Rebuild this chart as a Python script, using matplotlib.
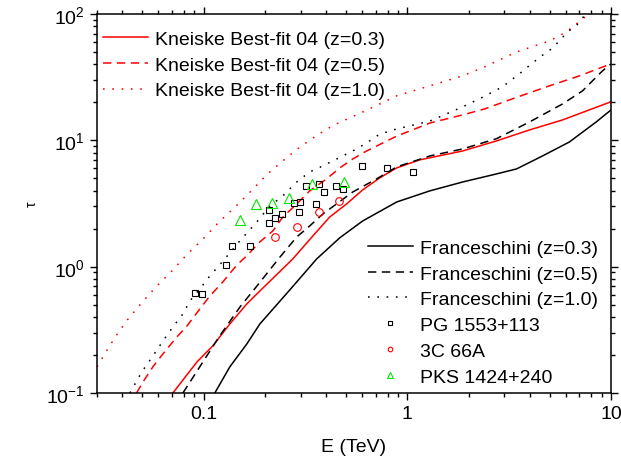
import matplotlib
matplotlib.use("Agg")
import matplotlib.pyplot as plt
from matplotlib.ticker import LogLocator, NullFormatter, FixedLocator, FixedFormatter

plt.rcParams['font.family'] = ['Liberation Sans', 'DejaVu Sans']
plt.rcParams['mathtext.fontset'] = 'custom'
plt.rcParams['mathtext.rm'] = 'Liberation Sans'
plt.rcParams['lines.scale_dashes'] = False

# Kneiske best-fit 04 curves (E in TeV, optical depth tau)
kn03_E = [0.0707, 0.0928, 0.111, 0.1346, 0.163, 0.189, 0.274, 0.344, 0.416, 0.504,
          0.604, 0.732, 0.887, 1.15, 1.87, 2.74, 3.99, 5.78, 10.0]
kn03_tau = [0.100, 0.176, 0.236, 0.352, 0.507, 0.642, 1.15, 1.75, 2.47, 3.14,
            4.05, 5.04, 6.05, 7.0, 8.24, 9.89, 12.1, 14.5, 20.2]

kn05_E = [0.0469, 0.0504, 0.0564, 0.0632, 0.074, 0.0829, 0.0959, 0.1074, 0.1244, 0.1457,
          0.163, 0.189, 0.219, 0.245, 0.287, 0.332, 0.402, 0.466, 0.540, 0.632,
          0.887, 1.29, 1.87, 2.39, 3.28, 4.82, 7.0, 10.0]
kn05_tau = [0.100, 0.122, 0.161, 0.204, 0.278, 0.339, 0.463, 0.586, 0.757, 1.03,
            1.22, 1.57, 1.92, 2.47, 3.14, 3.98, 4.95, 6.05, 7.12, 8.24,
            10.8, 13.7, 15.9, 17.7, 21.3, 26.5, 32.4, 40.3]

kn10_E = [0.03, 0.0331, 0.0372, 0.0424, 0.0493, 0.0582, 0.0697, 0.0826, 0.0996, 0.1189,
          0.1424, 0.172, 0.2037, 0.2456, 0.2967, 0.358, 0.4318, 0.606, 0.887, 1.29,
          1.87, 2.39, 3.44, 4.99, 6.04, 7.24, 7.83]
kn10_tau = [0.161, 0.21, 0.284, 0.381, 0.509, 0.687, 0.92, 1.24, 1.66, 2.25,
            2.95, 4.0, 5.32, 6.91, 8.82, 10.9, 13.1, 16.8, 22.5, 27.0,
            32.4, 38.1, 50.1, 61.2, 72.2, 91.4, 100.0]

# Franceschini curves
fr03_E = [0.1136, 0.1346, 0.163, 0.189, 0.265, 0.359, 0.466, 0.604, 0.887, 1.29,
          1.87, 2.74, 3.44, 4.61, 6.25, 8.47, 10.0]
fr03_tau = [0.100, 0.161, 0.244, 0.352, 0.654, 1.15, 1.69, 2.30, 3.25, 3.98,
            4.68, 5.42, 5.94, 7.52, 9.71, 14.0, 17.4]

fr05_E = [0.0792, 0.1015, 0.120, 0.151, 0.183, 0.237, 0.287, 0.332, 0.385, 0.450,
          0.540, 0.707, 0.887, 1.29, 1.87, 2.74, 3.99, 5.78, 7.24, 9.07, 10.0]
fr05_tau = [0.100, 0.186, 0.283, 0.48, 0.704, 1.19, 1.72, 2.10, 2.61, 3.14,
            3.90, 4.95, 6.16, 7.52, 8.55, 10.3, 14.0, 19.4, 24.6, 35.4, 40.3]

fr10_E = [0.0435, 0.0498, 0.0564, 0.0632, 0.0707, 0.0792, 0.0857, 0.0959, 0.1074, 0.1175,
          0.1361, 0.1507, 0.1826, 0.2114, 0.2448, 0.2868, 0.332, 0.3845, 0.4504, 0.5645,
          0.6534, 0.732, 0.887, 1.29, 1.87, 2.31, 2.93, 3.55, 4.07, 4.56,
          5.10, 5.58, 6.11, 6.76, 7.15, 7.57]
fr10_tau = [0.100, 0.147, 0.196, 0.258, 0.333, 0.422, 0.535, 0.666, 0.844, 0.995,
            1.31, 1.60, 2.26, 3.02, 3.63, 4.68, 5.62, 6.27, 7.12, 8.55,
            9.89, 11.2, 12.3, 14.2, 18.4, 21.7, 26.5, 33.6, 40.3, 46.6,
            52.9, 61.2, 72.2, 80.5, 91.4, 100.0]

# measured points
pg_E = [0.0907, 0.0981, 0.129, 0.1384, 0.170, 0.209, 0.225, 0.2086, 0.2428, 0.278,
        0.2967, 0.2943, 0.319, 0.3705, 0.390, 0.3565, 0.4468, 0.4836, 0.598, 0.793, 1.062]
pg_tau = [0.619, 0.604, 1.03, 1.45, 1.47, 2.23, 2.43, 2.81, 2.60, 3.18,
          3.24, 2.71, 4.38, 4.52, 3.90, 3.12, 4.38, 4.11, 6.25, 6.01, 5.65]
c3_E = [0.2254, 0.289, 0.3687, 0.462]
c3_tau = [1.73, 2.06, 2.73, 3.31]
pks_E = [0.151, 0.1816, 0.218, 0.2615, 0.3423, 0.4918]
pks_tau = [2.33, 3.12, 3.21, 3.52, 4.52, 4.68]

RED = '#ff0000'
GREEN = '#00e600'
LW = 1.1
DASH = (0, (6, 4))
DOT = (0, (1.2, 5.5))

fig = plt.figure(figsize=(6.21, 4.64), dpi=100)
ax = fig.add_axes([97 / 621, 70 / 464, 514 / 621, 379 / 464])

k1, = ax.plot(kn03_E, kn03_tau, color=RED, lw=LW, ls='-')
k2, = ax.plot(kn05_E, kn05_tau, color=RED, lw=LW, ls=DASH)
k3, = ax.plot(kn10_E, kn10_tau, color=RED, lw=LW, ls=DOT)
f1, = ax.plot(fr03_E, fr03_tau, color='black', lw=LW, ls='-')
f2, = ax.plot(fr05_E, fr05_tau, color='black', lw=LW, ls=DASH)
f3, = ax.plot(fr10_E, fr10_tau, color='black', lw=LW, ls=DOT)

p1, = ax.plot(pg_E, pg_tau, ls='none', marker='s', ms=5, mfc='none', mec='black', mew=0.8)
p2, = ax.plot(c3_E, c3_tau, ls='none', marker='o', ms=5.5, mfc='none', mec=RED, mew=0.8)
p3, = ax.plot(pks_E, pks_tau, ls='none', marker='^', ms=6.5, mfc='none', mec=GREEN, mew=0.8)

ax.set_xscale('log')
ax.set_yscale('log')
ax.set_xlim(0.03, 10)
ax.set_ylim(0.1, 100)

ax.xaxis.set_major_locator(FixedLocator([0.1, 1, 10]))
ax.xaxis.set_major_formatter(FixedFormatter(['0.1', '1', '10']))
ax.xaxis.set_minor_locator(LogLocator(base=10, subs=range(2, 10)))
ax.xaxis.set_minor_formatter(NullFormatter())
ax.yaxis.set_major_locator(FixedLocator([0.1, 1, 10, 100]))
ax.yaxis.set_major_formatter(FixedFormatter([r'$\mathregular{10^{-1}}$', r'$\mathregular{10^{0}}$',
                                             r'$\mathregular{10^{1}}$', r'$\mathregular{10^{2}}$']))
ax.yaxis.set_minor_locator(LogLocator(base=10, subs=range(2, 10)))
ax.yaxis.set_minor_formatter(NullFormatter())

ax.tick_params(which='both', direction='out', top=True, right=True, width=1.0)
ax.tick_params(which='major', length=5, labelsize=14, pad=4)
ax.tick_params(which='minor', length=2.8)
for s in ax.spines.values():
    s.set_linewidth(1.1)

ax.set_xlabel('E (TeV)', fontsize=14, va='center')
ax.xaxis.set_label_coords(0.5, -0.14)
ax.set_ylabel('τ', fontsize=10, va='center')
ax.yaxis.set_label_coords(-0.126, 0.5)

leg1 = ax.legend([k1, k2, k3],
                 ['Kneiske Best-fit 04 (z=0.3)', 'Kneiske Best-fit 04 (z=0.5)',
                  'Kneiske Best-fit 04 (z=1.0)'],
                 loc='upper left', bbox_to_anchor=(0.0117, 0.957), borderaxespad=0,
                 borderpad=0, frameon=False, fontsize=14, handlelength=2.3,
                 handletextpad=0.36, labelspacing=0.42)
ax.add_artist(leg1)
ax.legend([f1, f2, f3, p1, p2, p3],
          ['Franceschini (z=0.3)', 'Franceschini (z=0.5)', 'Franceschini (z=1.0)',
           'PG 1553+113', '3C 66A', 'PKS 1424+240'],
          loc='upper left', bbox_to_anchor=(0.527, 0.406), borderaxespad=0,
          borderpad=0, frameon=False, fontsize=14, handlelength=2.3,
          handletextpad=0.36, labelspacing=0.42, numpoints=1, markerscale=0.6)

fig.savefig('out.png', dpi=100)
